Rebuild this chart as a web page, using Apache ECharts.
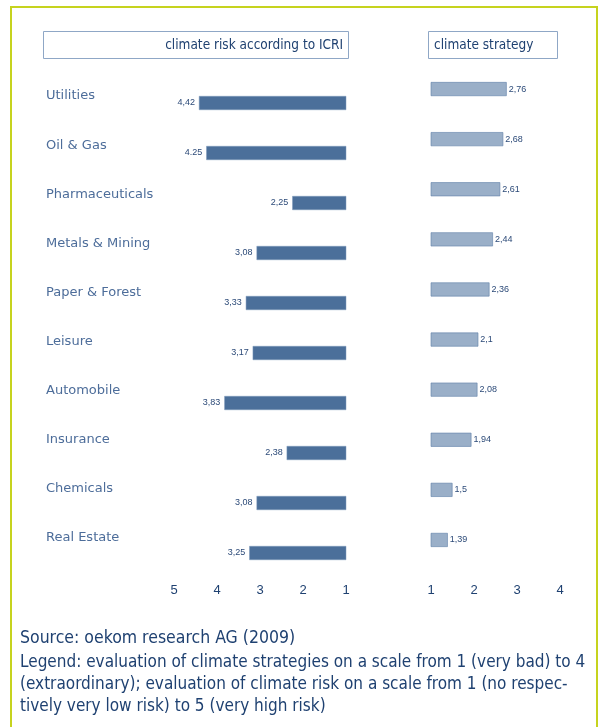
<!DOCTYPE html>
<html>
<head>
<meta charset="utf-8">
<script src="https://cdn.jsdelivr.net/npm/echarts@6/dist/echarts.min.js"></script>
<style>
  html, body { margin: 0; padding: 0; background: #fff; }
  #chart { width: 602px; height: 727px; }
</style>
</head>
<body>
<div id="chart"></div>
<script>
const sectors = ["Utilities", "Oil & Gas", "Pharmaceuticals", "Metals & Mining", "Paper & Forest",
  "Leisure", "Automobile", "Insurance", "Chemicals", "Real Estate"];
const riskValues = [4.42, 4.25, 2.25, 3.08, 3.33, 3.17, 3.83, 2.38, 3.08, 3.25];
const riskLabels = ["4,42", "4.25", "2,25", "3,08", "3,33", "3,17", "3,83", "2,38", "3,08", "3,25"];
const strategyValues = [2.76, 2.68, 2.61, 2.44, 2.36, 2.1, 2.08, 1.94, 1.5, 1.39];
const strategyLabels = ["2,76", "2,68", "2,61", "2,44", "2,36", "2,1", "2,08", "1,94", "1,5", "1,39"];
const riskTitle = "climate risk according to ICRI";
const strategyTitle = "climate strategy";
const sourceText = "Source: oekom research AG (2009)";
const legendText = "Legend: evaluation of climate strategies on a scale from 1 (very bad) to 4\n" +
  "(extraordinary); evaluation of climate risk on a scale from 1 (no respec-\n" +
  "tively very low risk) to 5 (very high risk)";

const navy = "#1f4171";
const condensed = "'DejaVu Sans Condensed', 'Liberation Sans Narrow', Roboto, sans-serif";
const hidden = { axisLine: { show: false }, axisTick: { show: false }, splitLine: { show: false } };

const chart = echarts.init(document.getElementById("chart"));
const option = {
  animation: false,
  grid: [
    { left: 174, width: 172, top: 78, height: 500 },
    { left: 431, width: 129, top: 64, height: 501 },
    // sector names sit on a slightly tighter pitch than the bars
    { left: 174, width: 172, top: 71.5, height: 491 }
  ],
  xAxis: [
    {
      gridIndex: 0, type: "value", min: 1, max: 5, interval: 1, inverse: true, ...hidden,
      axisLabel: { color: navy, fontSize: 13, fontFamily: "'Liberation Sans', Arial", margin: 6 }
    },
    {
      gridIndex: 1, type: "value", min: 1, max: 4, interval: 1, ...hidden,
      axisLabel: { color: navy, fontSize: 13, fontFamily: "'Liberation Sans', Arial", margin: 19 }
    },
    { gridIndex: 2, type: "value", min: 0, max: 1, show: false }
  ],
  yAxis: [
    {
      gridIndex: 0, type: "category", data: sectors, inverse: true, ...hidden,
      axisLabel: { show: false }
    },
    {
      gridIndex: 1, type: "category", data: sectors, inverse: true, ...hidden,
      axisLabel: { show: false }
    },
    {
      gridIndex: 2, type: "category", data: sectors, inverse: true, ...hidden,
      axisLabel: {
        align: "left", margin: 128, color: "#4d6d9a", fontSize: 13,
        fontFamily: "'DejaVu Sans', sans-serif"
      }
    }
  ],
  series: [
    {
      name: "climate risk", type: "bar", xAxisIndex: 0, yAxisIndex: 0,
      data: riskValues, barWidth: 14, clip: true,
      itemStyle: { color: "#4b6f9a", borderColor: "#7d98ba", borderWidth: 0.5 },
      label: {
        show: true, position: "left", distance: 4, color: "#2c4a78", fontSize: 9,
        fontFamily: "'Liberation Sans', Arial",
        formatter: (p) => riskLabels[p.dataIndex]
      }
    },
    {
      name: "climate strategy", type: "bar", xAxisIndex: 1, yAxisIndex: 1,
      data: strategyValues, barWidth: 14, clip: true,
      itemStyle: { color: "#9aafc8", borderColor: "#5f80a8", borderWidth: 0.6 },
      label: {
        show: true, position: "right", distance: 2, color: "#2c4a78", fontSize: 9,
        fontFamily: "'Liberation Sans', Arial",
        formatter: (p) => strategyLabels[p.dataIndex]
      }
    }
  ],
  graphic: [
    // yellow frame round the figure
    {
      type: "polyline", silent: true,
      shape: { points: [[11, 740], [11, 7], [597, 7], [597, 740]] },
      style: { stroke: "#c6d31e", lineWidth: 2, fill: null }
    },
    {
      type: "rect", shape: { x: 43.5, y: 31.5, width: 305, height: 27 },
      style: { fill: "#fff", stroke: "#8fa7c6", lineWidth: 1 }
    },
    {
      type: "text", x: 343, y: 45,
      style: { text: riskTitle, align: "right", verticalAlign: "middle", fill: navy,
        font: "13.5px " + condensed }
    },
    {
      type: "rect", shape: { x: 428.5, y: 31.5, width: 129, height: 27 },
      style: { fill: "#fff", stroke: "#8fa7c6", lineWidth: 1 }
    },
    {
      type: "text", x: 434, y: 45,
      style: { text: strategyTitle, align: "left", verticalAlign: "middle", fill: navy,
        font: "13.5px " + condensed }
    },
    {
      type: "text", x: 20, y: 638,
      style: { text: sourceText, verticalAlign: "middle", fill: navy, font: "17.5px " + condensed }
    },
    {
      type: "text", x: 20, y: 652,
      style: { text: legendText, verticalAlign: "top", fill: navy, lineHeight: 22,
        font: "17px " + condensed }
    }
  ]
};
chart.setOption(option);
</script>
</body>
</html>
